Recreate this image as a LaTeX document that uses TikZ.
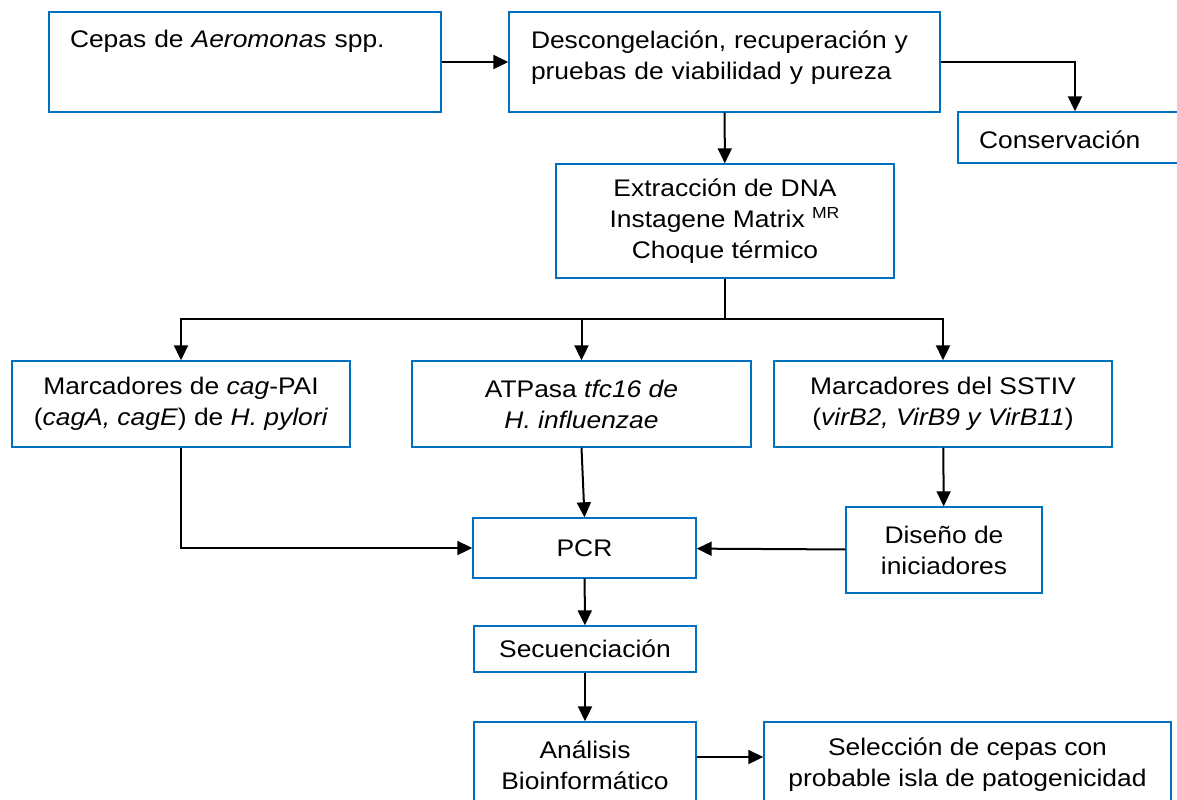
\documentclass[tikz,border=0pt]{standalone}
\usepackage{fontspec}
\setmainfont{Liberation Sans}[FakeStretch=1.1]
\usetikzlibrary{arrows.meta}
\definecolor{azulcaja}{RGB}{0,112,192}
\tikzset{
 caja/.style={draw=azulcaja,line width=.7pt,inner sep=0pt,align=center,font=\fontsize{12}{15.5}\selectfont},
 flecha/.style={-{Triangle[length=7.5pt,width=7pt]},line width=1pt},
 linea/.style={line width=1pt}
}
\begin{document}
\begin{tikzpicture}[x=.5pt,y=-.5pt]
\useasboundingbox (0,0) rectangle (1177,799);
\clip (0,0) rectangle (1177,799);
\node[caja,minimum width=196pt,text width=175pt,align=left,text height=17.75pt,text depth=32.25pt] (cepas) at (245,62) {Cepas de \textit{Aeromonas} spp.};
\node[caja,minimum width=215.5pt,text width=193.5pt,align=left,text height=18pt,text depth=32pt] (descon) at (724.5,62) {Descongelación, recuperación y\\pruebas de viabilidad y pureza};
\node[caja,minimum width=117pt,text width=96pt,align=left,text height=18pt,text depth=7.5pt] (conserv) at (1075,137.5) {Conservación};
\node[caja,minimum width=169pt,minimum height=57pt] (extr) at (725,221) {Extracción de DNA\\Instagene Matrix \textsuperscript{MR}\\Choque térmico};
\node[caja,minimum width=169pt,minimum height=43pt] (cag) at (181,404) {Marcadores de \textit{cag}-PAI\\(\textit{cagA, cagE}) de \textit{H. pylori}};
\node[caja,minimum width=169.5pt,minimum height=43pt] (atp) at (581.5,404) {ATPasa \textit{tfc16 de}\\\textit{H. influenzae}};
\node[caja,minimum width=169pt,minimum height=43pt] (sstiv) at (943,404) {Marcadores del SSTIV\\(\textit{virB2, VirB9 y VirB11})};
\node[caja,minimum width=98pt,minimum height=43pt] (diseno) at (944,550) {Diseño de\\iniciadores};
\node[caja,minimum width=111.5pt,minimum height=30pt] (pcr) at (584.5,548) {PCR};
\node[caja,minimum width=111pt,minimum height=23pt] (secu) at (585,649) {Secuenciación};
\node[caja,minimum width=111pt,minimum height=43pt] (anal) at (585,765) {Análisis\\Bioinformático};
\node[caja,minimum width=203.5pt,minimum height=43pt] (selec) at (967.5,765) {Selección de cepas con\\probable isla de patogenicidad};
\coordinate (rama) at (725,319);
\draw[flecha] (cepas) -- (descon);
\draw[flecha] (descon.east) -| (conserv.north);
\draw[flecha] (descon) -- (extr);
\draw[linea] (extr) -- (rama);
\draw[flecha] (rama) -| (cag.north);
\draw[flecha] (rama) -| (atp.north);
\draw[flecha] (rama) -| (sstiv.north);
\draw[flecha] (cag.south) |- (pcr.west);
\draw[flecha] (atp.south) -- (pcr.north);
\draw[flecha] (sstiv) -- (diseno);
\draw[flecha] (diseno) -- (pcr);
\draw[flecha] (pcr) -- (secu);
\draw[flecha] (secu) -- (anal);
\draw[flecha] ([yshift=4pt]anal.east) -- ([yshift=4pt]selec.west);
\end{tikzpicture}
\end{document}
